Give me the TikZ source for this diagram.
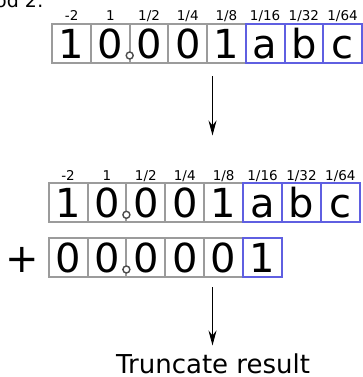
\documentclass[tikz,border=0pt]{standalone}
\usepackage{fontspec}
\setmainfont{DejaVu Sans}
\usetikzlibrary{arrows.meta}
\definecolor{cellgray}{RGB}{155,155,155}
\definecolor{cellblue}{RGB}{95,95,225}
\begin{document}
\begin{tikzpicture}[x=1pt,y=-1pt,
  cell/.style={draw=cellgray, line width=2pt, minimum width=38.8pt, minimum height=39pt,
    inner sep=0pt, outer sep=0pt, font=\fontsize{40}{40}\selectfont,
    text height=29pt, text depth=0pt},
  bluecell/.style={cell, draw=cellblue},
  weight/.style={font=\fontsize{13.5}{13.5}\selectfont, anchor=base, inner sep=0pt},
  point/.style={circle, draw=black!70, fill=white, line width=1.4pt, minimum size=7pt, inner sep=0pt},
  flow/.style={-{Stealth[length=15pt,width=8pt,inset=5pt]}, line width=1.1pt}]
\useasboundingbox (0,0) rectangle (363,377);

% heading, cut off at the page edge
\node[font=\fontsize{19}{19}\selectfont, anchor=base west, inner sep=0pt] (heading) at (-5,8) {od 2:};

% first number with bit weights
\foreach \w [count=\i] in {-2,1,1/2,1/4,1/8,1/16,1/32,1/64}
  \node[weight] (w1\i) at ({52.3+38.7*(\i-0.5)},20.5) {\w};
\foreach \t [count=\i] in {1,0,0,0,1}
  \node[cell, minimum width=38.7pt] (r1c\i) at ({52.3+38.7*(\i-0.5)},43.8) {\t};
\foreach \t [count=\j] in {a,b,c}
  \node[bluecell, minimum width=38.7pt] (r1c\the\numexpr\j+5\relax) at ({52.3+38.7*(\j+4.5)},43.8) {\t};
\node[point] (dot1) at ({52.3+2*38.7},55.5) {};

% arrow down to the addition
\coordinate (a1top) at (212.5,76.5);
\coordinate (a1tip) at (212.5,135.5);
\draw[flow] (a1top) -- (a1tip);

% second copy of the number
\foreach \w [count=\i] in {-2,1,1/2,1/4,1/8,1/16,1/32,1/64}
  \node[weight] (w2\i) at ({48.6+38.9*(\i-0.5)},180) {\w};
\foreach \t [count=\i] in {1,0,0,0,1}
  \node[cell, minimum width=38.9pt] (r2c\i) at ({48.6+38.9*(\i-0.5)},202.8) {\t};
\foreach \t [count=\j] in {a,b,c}
  \node[bluecell, minimum width=38.9pt] (r2c\the\numexpr\j+5\relax) at ({48.6+38.9*(\j+4.5)},202.8) {\t};
\node[point] (dot2) at ({48.6+2*38.9},214.8) {};

% rounding increment
\node[font=\fontsize{40}{40}\selectfont, anchor=base, inner sep=0pt] (plus) at (22.7,272.5) {+};
\foreach \t [count=\i] in {0,0,0,0,0}
  \node[cell, minimum width=38.9pt] (r3c\i) at ({48.6+38.9*(\i-0.5)},257.6) {\t};
\node[bluecell, minimum width=38.9pt] (r3c6) at ({48.6+38.9*5.5},257.6) {1};
\node[point] (dot3) at ({48.6+2*38.9},269.5) {};

% arrow down to the result
\coordinate (a2top) at (212.5,287);
\coordinate (a2tip) at (212.5,345.5);
\draw[flow] (a2top) -- (a2tip);

\node[font=\fontsize{26}{26}\selectfont, anchor=base, inner sep=0pt] (result) at (213,373.5) {Truncate result};
\end{tikzpicture}
\end{document}
